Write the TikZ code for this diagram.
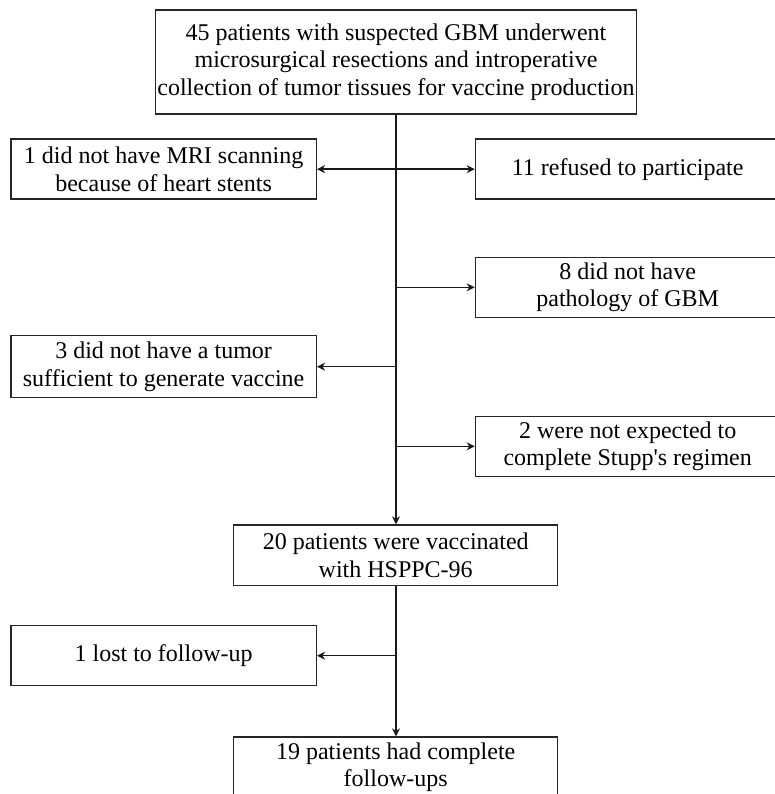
\documentclass[tikz,border=0pt]{standalone}
\usepackage{fontspec}
\setmainfont{Liberation Serif}
\usetikzlibrary{arrows.meta}
\tikzset{
  box/.style={draw=black!85, line width=1.4pt, align=center, inner sep=0pt,
    font=\fontsize{24}{27.3}\selectfont},
  lbox/.style={box, minimum width=305.5pt, minimum height=60pt},
  rbox/.style={box, minimum width=304.5pt, minimum height=60pt},
  cbox/.style={box, minimum width=324pt, minimum height=60.5pt},
  tip/.tip={Stealth[length=8pt,width=8pt,inset=2.5pt]},
  conn/.style={line width=1.5pt, draw=black!90, -tip},
  dconn/.style={line width=1.5pt, draw=black!90, tip-tip}
}
\begin{document}
\begin{tikzpicture}[x=1pt,y=-1pt]
\useasboundingbox[fill=white] (0,0) rectangle (775,794);
\clip (0,0) rectangle (775,794);
\node[box, minimum width=481pt, minimum height=104pt] (top) at (396,62)
  {45 patients with suspected GBM underwent\\microsurgical resections and introperative\\collection of tumor tissues for vaccine production};
\node[lbox] (mri) at (163.6,169.2) {1 did not have MRI scanning\\because of heart stents};
\node[rbox] (ref) at (627.7,169.2) {11 refused to participate};
\node[rbox] (gbm) at (627.7,287.3) {8 did not have\\pathology of GBM};
\node[lbox, minimum height=62pt] (tum) at (163.6,366.7) {3 did not have a tumor\\sufficient to generate vaccine};
\node[rbox] (stu) at (627.7,446.3) {2 were not expected to\\complete Stupp\textquotesingle s regimen};
\node[cbox] (vac) at (395.7,555.3) {20 patients were vaccinated\\with HSPPC-96};
\node[lbox] (lost) at (163.6,655.7) {1 lost to follow-up};
\node[cbox] (fin) at (395.7,767.3) {19 patients had complete\\follow-ups};
\coordinate (spine) at (396,0);
\draw[conn] (spine |- top.south) -- (spine |- vac.north);
\draw[dconn] (mri.east) -- (ref.west);
\draw[conn] (spine |- gbm.west) -- (gbm.west);
\draw[conn] (spine |- tum.east) -- (tum.east);
\draw[conn] (spine |- stu.west) -- (stu.west);
\draw[conn] (spine |- vac.south) -- (spine |- fin.north);
\draw[conn] (spine |- lost.east) -- (lost.east);
\end{tikzpicture}
\end{document}
